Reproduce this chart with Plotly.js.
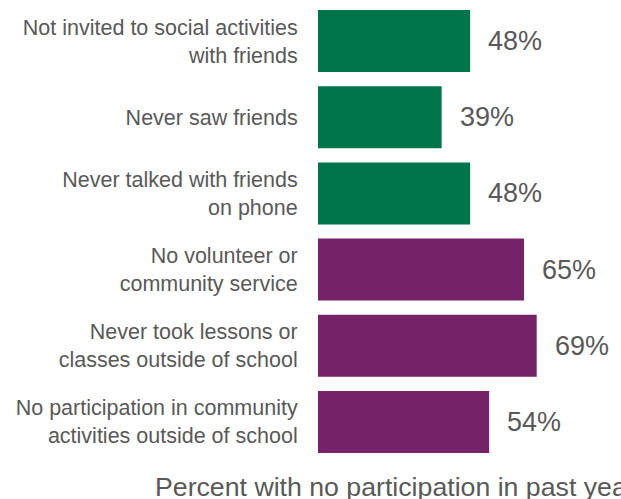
<!DOCTYPE html>
<html>
<head>
<meta charset="utf-8">
<script src="https://cdn.plot.ly/plotly-3.0.1.min.js"></script>
<style>html,body{margin:0;padding:0;background:#fff;overflow:hidden;}</style>
</head>
<body>
<div id="chart" style="width:621px;height:499px;"></div>
<script>
var categories = [
  "Not invited to social activities<br>with friends",
  "Never saw friends",
  "Never talked with friends<br>on phone",
  "No volunteer or<br>community service",
  "Never took lessons or<br>classes outside of school",
  "No participation in community<br>activities outside of school"
];
var values = [48, 39, 48, 65, 69, 54];
var groupColors = ["#00744A", "#00744A", "#00744A", "#762268", "#762268", "#762268"];
var axisTitle = "Percent with no participation in past year";

var labelFont = "Liberation Sans, Arial, Helvetica, sans-serif";
var numFont = "Liberation Sans, Arial, Helvetica, sans-serif";

var trace = {
  type: "bar",
  orientation: "h",
  y: categories,
  x: values,
  marker: {color: groupColors},
  hoverinfo: "none"
};

var annotations = values.map(function(v, i) {
  return {
    x: v, y: categories[i], xref: "x", yref: "y",
    text: v + "%", showarrow: false, xanchor: "left", yanchor: "middle",
    xshift: 16, font: {family: numFont, size: 27, color: "#595959"}
  };
});
annotations.push({
  xref: "paper", yref: "paper", x: -0.5446, y: 0, yshift: -10,
  xanchor: "left", yanchor: "top", showarrow: false,
  text: axisTitle, font: {family: numFont, size: 26.7, color: "#595959"}
});

var layout = {
  width: 621, height: 499,
  margin: {l: 318, r: 0, t: 3, b: 39},
  paper_bgcolor: "#ffffff", plot_bgcolor: "#ffffff",
  bargap: 0.186,
  showlegend: false,
  xaxis: {range: [0, 95.6], showgrid: false, zeroline: false, showticklabels: false, showline: false, ticks: ""},
  yaxis: {autorange: "reversed", showgrid: false, zeroline: false, showline: false,
          ticks: "outside", ticklen: 15, tickcolor: "rgba(0,0,0,0)",
          tickfont: {family: labelFont, size: 21.5, color: "#595959"}},
  annotations: annotations
};

Plotly.newPlot("chart", [trace], layout, {displayModeBar: false, staticPlot: true});
</script>
</body>
</html>
